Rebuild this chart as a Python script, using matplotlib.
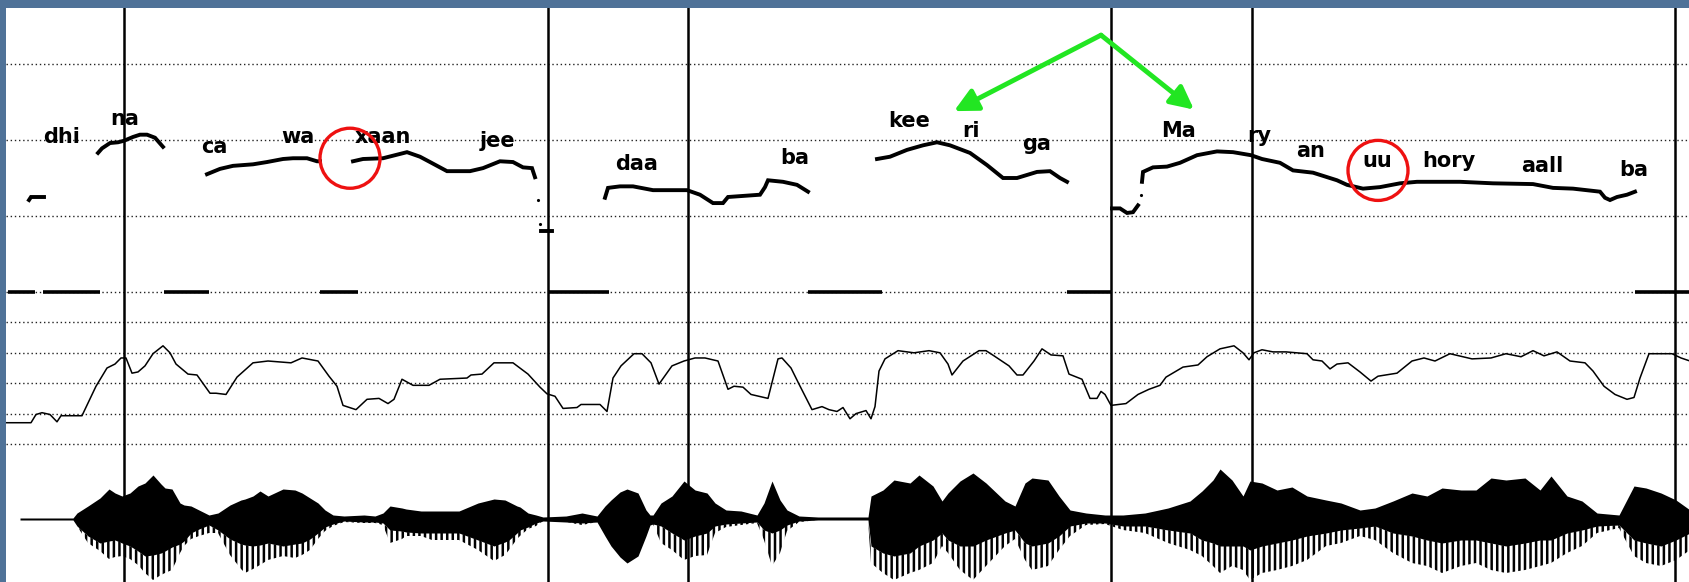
import numpy as np
import matplotlib.pyplot as plt
from matplotlib.patches import Ellipse

# one frame = one column of the display (about 2 ms)
boundaries = [124, 548, 688, 1111, 1252, 1675]

# pauses marked as thick bars on the 90 dB line
pause_start = [8, 43, 164, 320, 549, 808, 1067, 1635]
pause_end = [35, 100, 209, 358, 609, 882, 1111, 1690]

# pitch contour (Hz), one list per voiced stretch
f0_dhi_x = [29, 31, 44]
f0_dhi = [121, 125, 125]
f0_na_x = [98, 102, 110, 118, 124, 133, 140, 147, 155, 163]
f0_na = [183, 189, 196, 197, 199, 204, 207, 207, 203, 191]
f0_cawa_x = [207, 220, 233, 253, 267, 283, 293, 307, 317, 320]
f0_cawa = [155, 162, 166, 168, 171, 175, 176, 176, 172, 172]
f0_xaan_x = [353, 363, 383, 407, 420, 430, 447, 470, 483, 500, 513, 523, 532, 535]
f0_xaan = [172, 175, 176, 184, 178, 171, 159, 159, 163, 172, 171, 164, 163, 151]
f0_tail_x = [541, 552]
f0_tail = [80, 80]
f0_daa_x = [605, 608, 620, 633, 653, 687, 700, 713, 723, 728, 760, 765, 768, 783, 797, 808]
f0_daa = [124, 137, 139, 139, 134, 134, 128, 117, 117, 125, 128, 138, 147, 145, 141, 132]
f0_kee_x = [877, 890, 907, 923, 937, 950, 970, 987, 1003, 1017, 1037, 1050, 1060, 1067]
f0_kee = [175, 178, 187, 193, 197, 193, 183, 167, 150, 150, 158, 159, 150, 145]
f0_low_x = [1112, 1120, 1127, 1133, 1138]
f0_low = [110, 110, 104, 105, 114]
f0_ma_x = [1142, 1143, 1153, 1167, 1180, 1197, 1217, 1233, 1251, 1262, 1280, 1293,
           1313, 1337, 1347, 1363, 1380, 1400, 1417, 1460, 1493, 1533, 1553, 1573,
           1600, 1605, 1610, 1617, 1627, 1635]
f0_ma = [145, 158, 164, 165, 170, 180, 185, 184, 180, 175, 170, 160,
         157, 147, 141, 136, 138, 143, 145, 145, 143, 142, 137, 136,
         132, 124, 121, 125, 128, 132]
f0_dots_x = [538, 540, 1141]
f0_dots = [121, 89, 128]

# syllable labels
syllables = ['dhi', 'na', 'ca', 'wa', 'xaan', 'jee', 'daa', 'ba', 'kee', 'ri', 'ga',
             'Ma', 'ry', 'an', 'uu', 'hory', 'aall', 'ba']
syl_x = [62, 125, 214, 298, 383, 498, 637, 795, 909, 971, 1037,
         1179, 1259, 1311, 1377, 1449, 1542, 1634]
syl_hz = [196, 220, 183, 196, 196, 191, 161, 168, 217, 204, 187,
          204, 198, 178, 165, 165, 158, 153]

# highlighted spots and arrows
circle_x = [350, 1378]
circle_hz = [176, 160]
arrow_from = (1101, 338)
arrow_to_x = [954, 1194]
arrow_to_hz = [238, 240]

# intensity (dB)
int_x = [6, 31, 36, 42, 50, 57, 61, 82, 84, 96, 107, 115, 121, 126, 132, 138, 145, 153,
         163, 170, 176, 188, 197, 210, 216, 226, 237, 253, 268, 291, 302, 318, 329, 337,
         343, 356, 367, 379, 388, 394, 402, 413, 429, 440, 467, 471, 482, 494, 513, 528,
         540, 547, 555, 563, 577, 581, 600, 607, 613, 621, 634, 642, 651, 659, 672, 684,
         695, 705, 718, 728, 734, 743, 751, 768, 778, 782, 791, 799, 812, 822, 829, 837,
         843, 850, 856, 866, 871, 875, 879, 885, 898, 914, 929, 940, 948, 952, 963, 979,
         986, 994, 1009, 1017, 1023, 1034, 1042, 1051, 1063, 1069, 1082, 1090, 1097, 1101,
         1105, 1111, 1126, 1138, 1149, 1160, 1166, 1183, 1198, 1207, 1220, 1234, 1243,
         1249, 1254, 1262, 1273, 1286, 1307, 1313, 1322, 1330, 1337, 1348, 1360, 1371,
         1378, 1397, 1412, 1424, 1435, 1450, 1472, 1491, 1506, 1521, 1533, 1544, 1557,
         1570, 1585, 1593, 1604, 1615, 1627, 1634, 1640, 1649, 1672, 1681, 1690]
int_db = [47.0, 47.0, 49.7, 50.3, 49.7, 47.3, 49.3, 49.3, 50.7, 59.0, 65.0, 66.3, 68.3,
          68.3, 63.3, 63.7, 65.7, 69.7, 72.3, 70.0, 66.3, 63.0, 62.7, 56.7, 56.7, 56.3,
          62.0, 66.7, 67.3, 66.7, 68.3, 67.3, 62.3, 59.0, 52.7, 51.3, 54.7, 55.0, 53.3,
          54.7, 61.3, 59.3, 59.3, 61.3, 61.7, 62.7, 63.0, 66.7, 66.7, 63.0, 58.7, 56.5,
          55.7, 51.7, 52.0, 53.0, 53.0, 50.7, 61.7, 65.7, 69.7, 69.7, 66.7, 59.7, 65.7,
          67.3, 68.3, 68.3, 67.3, 58.0, 59.0, 58.7, 56.3, 55.0, 68.0, 68.3, 65.0, 59.7,
          51.3, 52.3, 51.3, 50.7, 52.0, 48.3, 50.0, 51.0, 48.3, 52.3, 64.0, 68.0, 70.7,
          70.0, 70.7, 70.0, 66.3, 62.7, 67.3, 70.7, 70.7, 69.0, 65.7, 62.7, 62.7, 67.3,
          71.3, 69.3, 69.0, 63.0, 61.3, 55.0, 55.0, 57.3, 56.3, 52.7, 53.3, 56.3, 58.0,
          59.3, 62.0, 65.3, 66.0, 68.7, 71.3, 72.3, 70.0, 67.7, 70.0, 71.0, 70.3, 70.3,
          69.7, 67.7, 67.3, 64.7, 66.3, 66.7, 63.7, 60.7, 62.3, 63.3, 67.3, 68.3, 67.3,
          69.7, 68.0, 68.3, 69.7, 68.7, 70.7, 69.0, 70.3, 67.3, 66.7, 64.0, 59.0, 56.3,
          54.7, 55.3, 61.7, 69.7, 69.7, 68.3, 67.3]

# waveform envelope (arbitrary amplitude units): top edge, solid lower edge, spike tips
wav_x = [20, 73, 77, 88, 100, 109, 115, 122, 130, 138, 145, 153, 161, 165, 172, 180, 184,
         191, 199, 209, 218, 230, 241, 245, 253, 260, 268, 283, 295, 302, 310, 318, 325,
         333, 344, 364, 375, 383, 390, 402, 406, 421, 432, 459, 478, 494, 505, 509, 517,
         520, 528, 536, 543, 566, 582, 597, 605, 611, 620, 627, 638, 646, 650, 653, 661,
         672, 684, 695, 707, 715, 726, 741, 757, 764, 772, 780, 787, 799, 818, 868, 871,
         883, 894, 910, 919, 933, 942, 948, 960, 973, 986, 1005, 1015, 1025, 1032, 1048,
         1059, 1070, 1086, 1105, 1123, 1145, 1168, 1190, 1202, 1213, 1220, 1232, 1243,
         1250, 1262, 1277, 1292, 1307, 1326, 1341, 1360, 1375, 1393, 1412, 1427, 1442,
         1461, 1476, 1491, 1506, 1525, 1540, 1551, 1567, 1582, 1597, 1619, 1634, 1646,
         1661, 1676, 1690]
wav_top = [1, 1, 6, 13, 21, 30, 26, 23, 26, 33, 36, 44, 35, 31, 30, 16, 14, 13, 9, 4, 6,
           14, 19, 20, 23, 28, 23, 30, 29, 26, 21, 16, 9, 4, 3, 4, 3, 6, 13, 11, 10, 8, 8,
           8, 16, 20, 19, 17, 13, 12, 6, 4, 2, 3, 6, 3, 13, 19, 27, 30, 26, 9, 4, 4, 16,
           23, 38, 29, 26, 16, 9, 8, 4, 16, 38, 19, 9, 3, 2, 2, 23, 29, 39, 36, 44, 33, 18,
           26, 38, 46, 36, 18, 13, 36, 41, 39, 23, 9, 6, 4, 4, 6, 11, 18, 28, 39, 50, 39,
           23, 38, 36, 29, 32, 23, 19, 16, 9, 11, 18, 26, 23, 31, 29, 29, 41, 39, 41, 29,
           43, 23, 18, 6, 4, 33, 31, 26, 19, 9]
wav_core = [1, 1, 7, 17, 24, 22, 21, 24, 27, 32, 37, 36, 34, 32, 28, 25, 22, 14, 10, 6,
            11, 20, 25, 26, 27, 26, 24, 27, 25, 24, 20, 14, 8, 5, 2, 3, 3, 4, 11, 12, 13,
            14, 14, 14, 21, 27, 23, 21, 14, 11, 8, 4, 2, 3, 4, 3, 17, 27, 38, 44, 37, 17,
            6, 5, 7, 14, 21, 17, 14, 7, 5, 4, 3, 11, 14, 11, 6, 2, 1, 1, 27, 34, 37, 34,
            27, 21, 14, 21, 27, 27, 21, 14, 11, 24, 27, 24, 17, 7, 4, 4, 7, 7, 11, 14, 21,
            24, 27, 27, 27, 31, 27, 24, 21, 17, 14, 11, 9, 7, 14, 17, 21, 24, 21, 21, 24,
            27, 24, 21, 21, 14, 11, 7, 6, 21, 24, 27, 21, 14]
wav_tip = [1, 1, 7, 24, 32, 40, 38, 37, 40, 46, 54, 61, 56, 54, 51, 34, 27, 20, 17, 14,
           14, 36, 50, 54, 50, 46, 41, 37, 39, 36, 31, 20, 12, 7, 3, 4, 4, 6, 24, 20, 17,
           17, 21, 21, 31, 42, 36, 31, 20, 17, 10, 7, 2, 3, 6, 3, 17, 27, 38, 44, 37, 17,
           6, 5, 24, 31, 41, 37, 36, 14, 8, 6, 4, 21, 47, 34, 12, 3, 1, 1, 44, 54, 61, 54,
           51, 44, 27, 34, 51, 61, 47, 27, 20, 41, 51, 47, 31, 17, 6, 5, 11, 14, 24, 31,
           37, 47, 54, 47, 51, 61, 54, 51, 47, 41, 27, 24, 17, 21, 34, 44, 47, 54, 47, 44,
           51, 54, 51, 47, 44, 34, 27, 14, 9, 37, 44, 47, 41, 31]


def add_boundaries(ax):
    for b in boundaries:
        ax.axvline(b, color='black', lw=1.8, zorder=5)


def clean(ax, xlim):
    ax.set_xlim(*xlim)
    ax.set_xticks([])
    ax.set_yticks([])
    for s in ax.spines.values():
        s.set_visible(False)
    ax.set_facecolor('white')


def plot_pitch(ax):
    dotted = dict(color='#222222', lw=1.0, linestyle=(0, (1, 2)))
    for hz in [100, 200, 300]:
        ax.axhline(hz, **dotted)
    segments = [(f0_dhi_x, f0_dhi), (f0_na_x, f0_na), (f0_cawa_x, f0_cawa),
                (f0_xaan_x, f0_xaan), (f0_tail_x, f0_tail), (f0_daa_x, f0_daa),
                (f0_kee_x, f0_kee), (f0_low_x, f0_low), (f0_ma_x, f0_ma)]
    for xs, ys in segments:
        ax.plot(xs, ys, color='black', lw=2.8, solid_joinstyle='miter', zorder=4)
    ax.plot(f0_dots_x, f0_dots, 'k.', ms=2.5, zorder=4)
    for s, x, y in zip(syllables, syl_x, syl_hz):
        ax.text(x, y, s, ha='center', va='baseline', fontsize=15,
                fontweight='bold', family='DejaVu Sans', zorder=6)
    for cx, cy in zip(circle_x, circle_hz):
        ax.add_patch(Ellipse((cx, cy), 60, 79, fill=False, edgecolor='#ee1111',
                             lw=2.4, zorder=7))
    for tx, ty in zip(arrow_to_x, arrow_to_hz):
        ax.annotate('', xy=(tx, ty), xytext=arrow_from,
                    arrowprops=dict(arrowstyle='-|>,head_length=0.7,head_width=0.35',
                                    color='#22e622', lw=3.5, mutation_scale=20,
                                    shrinkA=0, shrinkB=0), zorder=7)


def plot_intensity(ax):
    dotted = dict(color='#222222', lw=1.0, linestyle=(0, (1, 2)), clip_on=False)
    for db in [90, 80, 70, 60, 50, 40]:
        ax.axhline(db, **dotted)
    ax.hlines([90] * len(pause_start), pause_start, pause_end, color='black',
              lw=2.6, clip_on=False, zorder=4)
    ax.plot(int_x, int_db, color='black', lw=1.1, zorder=4)


def plot_waveform(ax):
    x = np.array(wav_x)
    top = np.array(wav_top)
    core = -np.array(wav_core)
    tip = -np.array(wav_tip)
    ax.fill_between(x, top, core, color='black', lw=0, zorder=3)
    # separate vertical spikes below the solid part
    ax.fill_between(x, core, tip, facecolor='none', edgecolor='black', hatch='|||',
                    lw=0, zorder=3)


def main():
    plt.rcParams['hatch.linewidth'] = 1.8
    W, H = 1690, 582
    fig = plt.figure(figsize=(W / 100, H / 100), dpi=100)
    fig.patch.set_facecolor('#4f7298')

    left = 6 / W
    width = (W - 6) / W
    xlim = (6, 1690)

    ax_p = fig.add_axes([left, (H - 292) / H, width, (292 - 8) / H])
    ax_i = fig.add_axes([left, (H - 456) / H, width, (456 - 292) / H])
    ax_w = fig.add_axes([left, 0, width, (H - 456) / H])

    plot_pitch(ax_p)
    ax_p.set_ylim(0, 284 / 0.76)
    plot_intensity(ax_i)
    ax_i.set_ylim(90 - 164 / 3.04, 90)
    plot_waveform(ax_w)
    ax_w.set_ylim(-63, 63)

    for ax in (ax_p, ax_i, ax_w):
        clean(ax, xlim)
        add_boundaries(ax)

    fig.savefig('out.png', dpi=100, facecolor=fig.get_facecolor())


if __name__ == "__main__":
    main()
